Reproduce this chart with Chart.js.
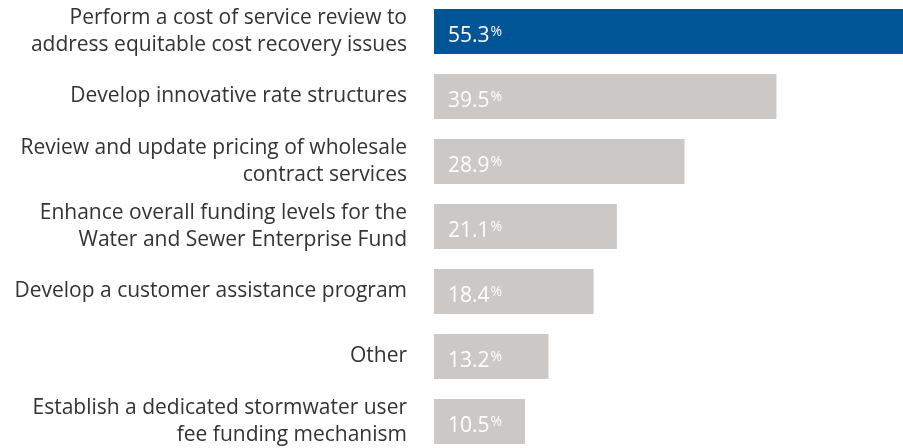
<!DOCTYPE html>
<html>
<head>
<meta charset="utf-8">
<script src="https://cdn.jsdelivr.net/npm/chart.js@4/dist/chart.umd.min.js"></script>
<style>
  html, body { margin: 0; padding: 0; background: #fff; overflow: hidden; }
  #wrap { position: absolute; left: 0; top: -1px; width: 903px; height: 455px; }
</style>
</head>
<body>
<div id="wrap"><canvas id="chart"></canvas></div>
<script>
// data
const categories = [
  ['Perform a cost of service review to', 'address equitable cost recovery issues'],
  'Develop innovative rate structures',
  ['Review and update pricing of wholesale', 'contract services'],
  ['Enhance overall funding levels for the', 'Water and Sewer Enterprise Fund'],
  'Develop a customer assistance program',
  'Other',
  ['Establish a dedicated stormwater user', 'fee funding mechanism']
];
const values = [55.3, 39.5, 28.9, 21.1, 18.4, 13.2, 10.5];

const BLUE = '#005596';
const GREY = '#cbc8c5';
const FONT = '"Open Sans", sans-serif';

// value labels inside bars: number plus small raised %
const valueLabels = {
  id: 'valueLabels',
  afterDatasetsDraw(chart) {
    const ctx = chart.ctx;
    const meta = chart.getDatasetMeta(0);
    ctx.save();
    ctx.fillStyle = '#ffffff';
    ctx.textBaseline = 'alphabetic';
    ctx.textAlign = 'left';
    meta.data.forEach((bar, i) => {
      const txt = values[i].toFixed(1);
      const x = bar.base + 14;
      const y = bar.y + 10;
      ctx.font = '21px ' + FONT;
      ctx.fillText(txt, x, y);
      const w = ctx.measureText(txt).width;
      ctx.font = '14px ' + FONT;
      ctx.fillText('%', x + w + 1, y - 6);
    });
    ctx.restore();
  }
};

new Chart(document.getElementById('chart'), {
  type: 'bar',
  data: {
    labels: categories,
    datasets: [{
      data: values,
      backgroundColor: ctx => ctx.dataIndex === 0 ? BLUE : GREY,
      borderWidth: 0,
      barPercentage: 0.69,
      categoryPercentage: 1
    }]
  },
  options: {
    indexAxis: 'y',
    responsive: true,
    maintainAspectRatio: false,
    animation: false,
    layout: { padding: 0 },
    plugins: {
      legend: { display: false },
      tooltip: { enabled: false }
    },
    scales: {
      x: {
        display: false,
        min: 0,
        max: 54.1
      },
      y: {
        grid: { display: false, drawTicks: false },
        border: { display: false },
        ticks: {
          padding: 27,
          color: '#333333',
          font: { family: FONT, size: 21, lineHeight: 1.24 }
        },
        afterFit: scale => {
          scale.width = 434;
          scale.paddingTop = 0;
          scale.paddingBottom = 0;
        }
      }
    }
  },
  plugins: [valueLabels]
});
</script>
</body>
</html>
